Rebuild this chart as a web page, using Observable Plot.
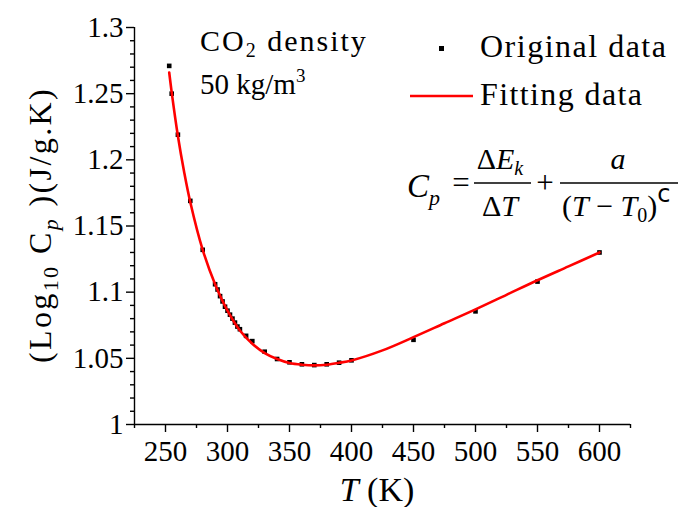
<!DOCTYPE html>
<html>
<head>
<meta charset="utf-8">
<script src="https://cdn.jsdelivr.net/npm/d3@7"></script>
<script src="https://cdn.jsdelivr.net/npm/@observablehq/plot@0.6"></script>
<style>
  body { margin: 0; background: #fff; }
  #chart { width: 678px; height: 507px; }
</style>
</head>
<body>
<div id="chart"></div>
<script>
// Heat capacity of CO2 at 50 kg/m3: measured points and fitted curve
const origT  = [253, 255, 260, 270, 280, 290, 292, 294, 296, 298, 300, 302, 304, 306, 308, 310,
                315, 320, 330, 340, 350, 360, 370, 380, 390, 400, 450, 500, 550, 600];
const origCp = [1.271, 1.250, 1.219, 1.169, 1.132, 1.106, 1.102, 1.097, 1.093, 1.089, 1.086, 1.083,
                1.080, 1.077, 1.074, 1.072, 1.067, 1.063, 1.055, 1.0495, 1.0470, 1.0455, 1.0449,
                1.0455, 1.0467, 1.0485, 1.0640, 1.0855, 1.1080, 1.1300];

const fitT  = [253, 255, 260, 265, 270, 280, 290, 300, 310, 320, 330, 340, 350, 360, 370,
               380, 390, 400, 425, 450, 475, 500, 525, 550, 575, 600];
const fitCp = [1.266, 1.251, 1.218, 1.191, 1.168, 1.132, 1.106, 1.086, 1.071, 1.061, 1.054,
               1.0495, 1.0465, 1.0452, 1.0447, 1.0452, 1.0466, 1.0484, 1.0560, 1.0660,
               1.0765, 1.0870, 1.0980, 1.1090, 1.1195, 1.1300];

const xTicks = [250, 300, 350, 400, 450, 500, 550, 600];
const xMinor = [225, 275, 325, 375, 425, 475, 525, 575, 625];
const yTicks = [1, 1.05, 1.1, 1.15, 1.2, 1.25, 1.3];
const yTickLabels = ["1", "1.05", "1.1", "1.15", "1.2", "1.25", "1.3"];
const yMinor = [1.01, 1.02, 1.03, 1.04, 1.06, 1.07, 1.08, 1.09, 1.11, 1.12, 1.13, 1.14,
                1.16, 1.17, 1.18, 1.19, 1.21, 1.22, 1.23, 1.24, 1.26, 1.27, 1.28, 1.29];

const orig = origT.map((t, i) => ({T: t, Cp: origCp[i]}));
const fit = fitT.map((t, i) => ({T: t, Cp: fitCp[i]}));

const serif = "'Liberation Serif', 'Times New Roman', serif";

const svg = Plot.plot({
  width: 678,
  height: 507,
  marginLeft: 134,
  marginRight: 48,
  marginTop: 27,
  marginBottom: 83,
  style: {fontFamily: serif, fontSize: "29px", color: "#000", background: "#fff", overflow: "visible"},
  x: {domain: [225, 625]},
  y: {domain: [1, 1.3]},
  marks: [
    Plot.axisX(xMinor, {tickSize: 4, tickFormat: () => "", label: null, strokeWidth: 1.4}),
    Plot.axisX(xTicks, {tickSize: 8, tickPadding: 8, tickFormat: d => String(d), label: null, strokeWidth: 1.4}),
    Plot.axisY(yMinor, {tickSize: 4, tickFormat: () => "", label: null, strokeWidth: 1.4}),
    Plot.axisY(yTicks, {tickSize: 8, tickPadding: 3, tickFormat: (d, i) => yTickLabels[i], label: null, strokeWidth: 1.4}),
    Plot.ruleX([225], {strokeWidth: 1.4}),
    Plot.ruleY([1], {strokeWidth: 1.4}),
    Plot.dot(orig, {x: "T", y: "Cp", symbol: "square", r: 2.6, fill: "#000", stroke: null}),
    Plot.line(fit, {x: "T", y: "Cp", stroke: "#ff0000", strokeWidth: 2.6, curve: "catmull-rom"})
  ]
});

document.getElementById("chart").appendChild(svg);

// Annotations: axis titles, sample label, legend and fitting equation
const g = d3.select(svg).append("g")
  .attr("font-family", serif)
  .attr("fill", "#000");

function addText(x, y, size, anchor) {
  return g.append("text").attr("x", x).attr("y", y)
    .attr("font-size", size).attr("text-anchor", anchor || "start");
}

// x-axis title
const xt = addText(377, 501, 34, "middle");
xt.append("tspan").attr("font-style", "italic").text("T");
xt.append("tspan").text(" (K)");

// y-axis title
const yt = g.append("text")
  .attr("transform", "translate(51,225) rotate(-90)")
  .attr("text-anchor", "middle").attr("font-size", 32).attr("letter-spacing", 2.4);
yt.append("tspan").text("(Log");
yt.append("tspan").attr("font-size", 22).attr("dy", 7).text("10");
yt.append("tspan").attr("dy", -7).text(" C");
yt.append("tspan").attr("font-size", 22).attr("font-style", "italic").attr("dy", 7).text("p");
yt.append("tspan").attr("dy", -7).text(" )(J/g.K)");

// sample label
const s1 = addText(200, 51, 30);
s1.attr("letter-spacing", 2);
s1.append("tspan").text("CO");
s1.append("tspan").attr("font-size", 20).attr("dy", 6).text("2");
s1.append("tspan").attr("dy", -6).text(" density");
const s2 = addText(200, 94, 29);
s2.append("tspan").text("50 kg/m");
s2.append("tspan").attr("font-size", 19).attr("dy", -12).text("3");

// legend
g.append("rect").attr("x", 439).attr("y", 46).attr("width", 5).attr("height", 5).attr("fill", "#000");
addText(480, 57, 32).attr("letter-spacing", 1.5).text("Original data");
g.append("line").attr("x1", 410).attr("x2", 473).attr("y1", 96).attr("y2", 96)
  .attr("stroke", "#ff0000").attr("stroke-width", 2.6);
addText(480, 105, 32).attr("letter-spacing", 1.4).text("Fitting data");

// fitting equation
const cp = addText(407, 197, 33);
cp.append("tspan").attr("font-style", "italic").text("C");
cp.append("tspan").attr("font-style", "italic").attr("font-size", 22).attr("dy", 8).text("p");
addText(461, 193, 31, "middle").text("=");
g.append("line").attr("x1", 474).attr("x2", 531).attr("y1", 183).attr("y2", 183)
  .attr("stroke", "#000").attr("stroke-width", 1.3);
const num1 = addText(500, 169, 30, "middle");
num1.append("tspan").text("Δ");
num1.append("tspan").attr("font-style", "italic").text("E");
num1.append("tspan").attr("font-style", "italic").attr("font-size", 20).attr("dy", 6).text("k");
const den1 = addText(500, 216, 30, "middle");
den1.append("tspan").text("Δ");
den1.append("tspan").attr("font-style", "italic").text("T");
addText(545, 193, 31, "middle").text("+");
g.append("line").attr("x1", 560).attr("x2", 678).attr("y1", 183).attr("y2", 183)
  .attr("stroke", "#000").attr("stroke-width", 1.3);
addText(618, 169, 30, "middle").attr("font-style", "italic").text("a");
const den2 = addText(562, 216, 30);
den2.append("tspan").text("(");
den2.append("tspan").attr("font-style", "italic").text("T");
den2.append("tspan").text(" − ");
den2.append("tspan").attr("font-style", "italic").text("T");
den2.append("tspan").attr("font-size", 20).attr("dy", 6).text("0");
den2.append("tspan").attr("dy", -6).text(")");
den2.append("tspan").attr("font-size", 24).attr("font-family", "'DejaVu Sans', sans-serif").attr("dy", -14).text("c");
</script>
</body>
</html>
